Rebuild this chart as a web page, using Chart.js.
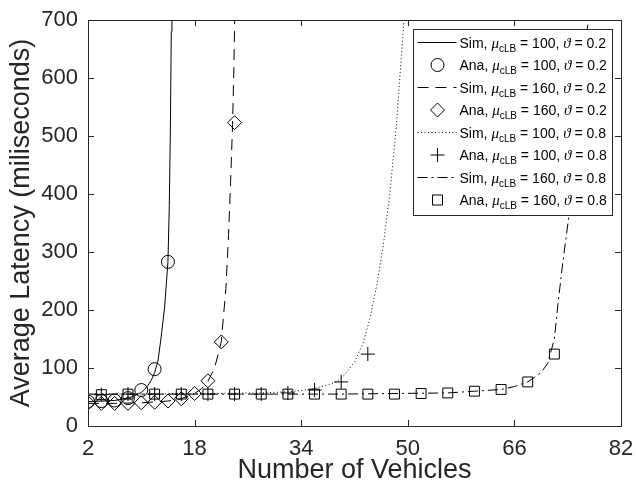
<!DOCTYPE html>
<html>
<head>
<meta charset="utf-8">
<script src="https://cdn.jsdelivr.net/npm/chart.js@4"></script>
<style>
  html, body { margin: 0; padding: 0; background: #fff; }
  #wrap { width: 636px; height: 496px; }
</style>
</head>
<body>
<div id="wrap"><canvas id="latency-chart" width="636" height="496"></canvas></div>
<script>
// DATA
const xTicks = [2, 18, 34, 50, 66, 82];
const yTicks = [0, 100, 200, 300, 400, 500, 600, 700];

// Sim, mu = 100, theta = 0.2 (solid)
const sim1X = [2, 4, 6, 8, 9, 10, 10.5, 11, 11.5, 12, 12.5, 13, 13.5, 14, 14.2, 14.35, 14.5, 14.6];
const sim1Y = [42, 43, 44, 48, 52, 58, 63, 70, 79, 92, 112, 155, 205, 283, 380, 500, 680, 800];
// Ana, mu = 100, theta = 0.2 (circles)
const ana1X = [2, 4, 6, 8, 10, 12, 14];
const ana1Y = [42, 43, 44, 48, 62, 98, 283];

// Sim, mu = 160, theta = 0.2 (dashed)
const sim2X = [2, 6, 10, 14, 16, 18, 19, 20, 21, 22, 22.7, 23.1, 23.4, 23.7, 23.9, 24.1];
const sim2Y = [39, 39, 40, 43, 47, 56, 64, 77, 100, 145, 237, 330, 420, 520, 620, 760];
// Ana, mu = 160, theta = 0.2 (diamonds)
const ana2X = [2, 4, 6, 8, 10, 12, 14, 16, 18, 20, 22, 24];
const ana2Y = [40, 39, 39, 39, 40, 41, 43, 47, 56, 78, 145, 523];

// Sim, mu = 100, theta = 0.8 (dotted)
const sim3X = [2, 10, 20, 28, 32, 34, 36, 38, 39.3, 40.5, 42, 43.3, 44.3, 45.3, 46.3, 47.3, 48.3, 49.3, 50];
const sim3Y = [55, 55, 56, 57, 59, 61, 65, 71, 76, 88, 110, 143, 185, 240, 310, 400, 520, 680, 800];
// Ana, mu = 100, theta = 0.8 (plus)
const ana3X = [4, 8, 12, 16, 20, 24, 28, 32, 36, 40, 44];
const ana3Y = [54, 55, 55, 55, 55, 55, 55, 57, 62, 76, 124];

// Sim, mu = 160, theta = 0.8 (dash-dot)
const sim4X = [2, 20, 40, 56, 60, 64, 66, 68, 70, 71, 72, 72.6, 73.3, 74.1, 75, 76, 77, 77.4];
const sim4Y = [55, 55, 55, 57, 60, 63, 68, 76, 92, 108, 150, 217, 285, 355, 460, 580, 690, 750];
// Ana, mu = 160, theta = 0.8 (squares)
const ana4X = [4, 8, 12, 16, 20, 24, 28, 32, 36, 40, 44, 48, 52, 56, 60, 64, 68, 72];
const ana4Y = [54, 55, 55, 55, 55, 55, 55, 55, 55, 55, 55, 55, 56, 57, 60, 63, 76, 124];

// legend text pieces
const legendKind = ["Sim", "Ana", "Sim", "Ana", "Sim", "Ana", "Sim", "Ana"];
const legendMu = ["100", "100", "160", "160", "100", "100", "160", "160"];
const legendTheta = ["0.2", "0.2", "0.2", "0.2", "0.8", "0.8", "0.8", "0.8"];

// HELPERS
const ink = "#262626";
const toPoints = (xs, ys) => xs.map((x, i) => ({ x: x, y: ys[i] }));

const simLine = (xs, ys, dash) => ({
    data: toPoints(xs, ys),
    showLine: true,
    borderColor: "#000",
    borderWidth: 1,
    borderDash: dash,
    pointRadius: 0,
    pointHoverRadius: 0,
    fill: false,
    tension: 0,
});
const anaMarks = (xs, ys, style, r) => ({
    data: toPoints(xs, ys),
    showLine: false,
    pointStyle: style,
    pointRadius: r,
    pointBorderColor: "#000",
    pointBackgroundColor: "rgba(0,0,0,0)",
    pointBorderWidth: 1,
});

const datasets = [
    simLine(sim1X, sim1Y, []),
    anaMarks(ana1X, ana1Y, "circle", 6.5),
    simLine(sim2X, sim2Y, [11, 7]),
    anaMarks(ana2X, ana2Y, "rectRot", 7),
    simLine(sim3X, sim3Y, [1, 2.5]),
    anaMarks(ana3X, ana3Y, "cross", 7),
    simLine(sim4X, sim4Y, [10, 4, 2, 4]),
    anaMarks(ana4X, ana4Y, "rect", 7),
];

// box round the plot with inward ticks, like the original figure
const boxPlugin = {
    id: "boxTicks",
    afterDatasetsDraw(chart) {
        const { ctx, chartArea: a, scales } = chart;
        const tl = 6;
        ctx.save();
        ctx.strokeStyle = ink;
        ctx.lineWidth = 1;
        ctx.beginPath();
        xTicks.forEach((v) => {
            const px = Math.round(scales.x.getPixelForValue(v)) + 0.5;
            ctx.moveTo(px, a.bottom); ctx.lineTo(px, a.bottom - tl);
            ctx.moveTo(px, a.top); ctx.lineTo(px, a.top + tl);
        });
        yTicks.forEach((v) => {
            const py = Math.round(scales.y.getPixelForValue(v)) + 0.5;
            ctx.moveTo(a.left, py); ctx.lineTo(a.left + tl, py);
            ctx.moveTo(a.right, py); ctx.lineTo(a.right - tl, py);
        });
        ctx.stroke();
        ctx.strokeRect(Math.round(a.left) + 0.5, Math.round(a.top) + 0.5,
            Math.round(a.right - a.left), Math.round(a.bottom - a.top));
        ctx.restore();
    },
};

const drawMarker = (ctx, style, x, y) => {
    ctx.beginPath();
    if (style === "circle") {
        ctx.arc(x, y, 6.5, 0, Math.PI * 2);
    } else if (style === "rectRot") {
        ctx.moveTo(x, y - 7); ctx.lineTo(x + 7, y); ctx.lineTo(x, y + 7); ctx.lineTo(x - 7, y); ctx.closePath();
    } else if (style === "cross") {
        ctx.moveTo(x - 7, y); ctx.lineTo(x + 7, y); ctx.moveTo(x, y - 7); ctx.lineTo(x, y + 7);
    } else if (style === "rect") {
        ctx.rect(x - 5, y - 5, 10, 10);
    }
    ctx.stroke();
};

// legend with the subscripted mu, drawn inside the plot box
const legendPlugin = {
    id: "boxLegend",
    afterDraw(chart) {
        const { ctx, chartArea: a } = chart;
        const w = 199, h = 186;
        const x0 = Math.round(a.right - 9 - w) + 0.5;
        const y0 = Math.round(a.top + 9) + 0.5;
        const rowH = 22.5;
        ctx.save();
        ctx.fillStyle = "#fff";
        ctx.fillRect(x0, y0, w, h);
        ctx.strokeStyle = ink;
        ctx.lineWidth = 1;
        ctx.strokeRect(x0, y0, w, h);

        chart.data.datasets.forEach((ds, i) => {
            const cy = y0 + 13 + i * rowH;
            ctx.strokeStyle = "#000";
            ctx.lineWidth = 1;
            if (ds.showLine) {
                ctx.setLineDash(ds.borderDash);
                ctx.beginPath();
                ctx.moveTo(x0 + 4, cy); ctx.lineTo(x0 + 43, cy);
                ctx.stroke();
                ctx.setLineDash([]);
            } else {
                drawMarker(ctx, ds.pointStyle, x0 + 24, cy);
            }
            // text
            let tx = x0 + 46;
            const ty = cy + 5;
            ctx.fillStyle = "#000";
            ctx.textBaseline = "alphabetic";
            ctx.textAlign = "left";
            const put = (s, font, dy) => {
                ctx.font = font;
                ctx.fillText(s, tx, ty + (dy || 0));
                tx += ctx.measureText(s).width;
            };
            const body = "14px 'Liberation Sans', Arial, sans-serif";
            const greek = "italic 15px 'Liberation Serif', 'DejaVu Serif', serif";
            put(legendKind[i] + ", ", body);
            put("\u03bc", greek);
            put("cLB", "10px 'Liberation Sans', Arial, sans-serif", 4);
            put(" = " + legendMu[i] + ", ", body);
            put("\u03d1", greek);
            put(" = " + legendTheta[i], body);
        });
        ctx.restore();
    },
};

const tickFont = { family: "'Liberation Sans', Arial, sans-serif", size: 22 };
const titleFont = { family: "'Liberation Sans', Arial, sans-serif", size: 27 };

const config = {
    type: "scatter",
    data: { datasets: datasets },
    options: {
        responsive: false,
        animation: false,
        events: [],
        layout: { padding: { top: 20, right: 15, left: 0, bottom: 0 } },
        plugins: {
            legend: { display: false },
            tooltip: { enabled: false },
        },
        scales: {
            x: {
                type: "linear",
                min: 2,
                max: 82,
                afterBuildTicks: (scale) => {
                    scale.ticks = xTicks.map((v) => ({ value: v }));
                },
                afterFit: (scale) => {
                    scale.height = 70;
                    scale.paddingLeft = 0;
                    scale.paddingRight = 0;
                },
                grid: { display: false, drawTicks: false },
                border: { display: false },
                ticks: { color: ink, font: tickFont, padding: 10, maxRotation: 0 },
                title: {
                    display: true,
                    text: "Number of Vehicles",
                    color: ink,
                    font: titleFont,
                    padding: { top: 0, bottom: 9 },
                },
            },
            y: {
                type: "linear",
                min: 0,
                max: 700,
                afterBuildTicks: (scale) => {
                    scale.ticks = yTicks.map((v) => ({ value: v }));
                },
                afterFit: (scale) => {
                    scale.width = 88;
                    scale.paddingTop = 0;
                    scale.paddingBottom = 0;
                },
                grid: { display: false, drawTicks: false },
                border: { display: false },
                ticks: { color: ink, font: tickFont, padding: 10 },
                title: {
                    display: true,
                    text: "Average Latency (miliseconds)",
                    color: ink,
                    font: titleFont,
                    padding: { top: 5, bottom: 0 },
                },
            },
        },
    },
    plugins: [boxPlugin, legendPlugin],
};

new Chart(document.getElementById("latency-chart"), config);
</script>
</body>
</html>
